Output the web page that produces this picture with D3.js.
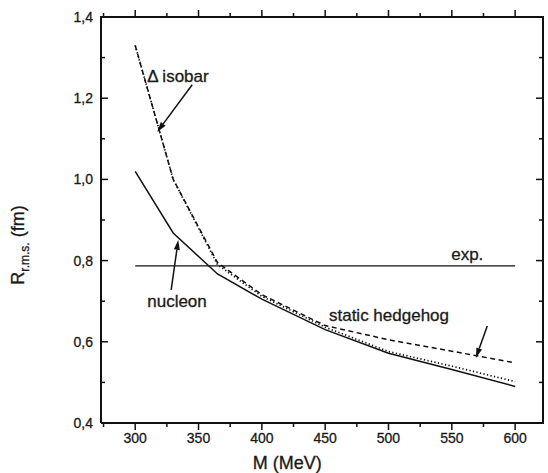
<!DOCTYPE html>
<html>
<head>
<meta charset="utf-8">
<script src="https://cdn.jsdelivr.net/npm/d3@7"></script>
<style>
  body { margin: 0; background: #fff; }
  svg text { font-family: "Liberation Sans", Arial, sans-serif; fill: #1a1a1a; }
</style>
</head>
<body>
<svg id="chart" width="548" height="473"></svg>
<script>
// Pion mass M (MeV) and r.m.s. radii (fm)
var masses   = [300, 330, 365, 400, 450, 500, 550, 600];
var nucleon  = [1.02, 0.868, 0.767, 0.705, 0.630, 0.572, 0.532, 0.490];
var isobar   = [1.33, 1.00, 0.790, 0.712, 0.636, 0.576, 0.540, 0.502];
var hedgehog = [1.33, 1.00, 0.795, 0.716, 0.640, 0.605, 0.577, 0.548];
var expRadius = 0.787;
var expRange = [300, 600];

var xTicks = [300, 350, 400, 450, 500, 550, 600];
var yTicks = [0.4, 0.6, 0.8, 1.0, 1.2, 1.4];
var xMinor = [275, 325, 375, 425, 475, 525, 575];
var yMinor = [0.5, 0.7, 0.9, 1.1, 1.3];

var svg = d3.select("#chart");
var x = d3.scaleLinear().domain([273, 622]).range([101, 543]);
var y = d3.scaleLinear().domain([0.4, 1.4]).range([423, 17]);

var fmt = function (d) { return d3.format(".1f")(d).replace(".", ","); };

var line = d3.line()
    .x(function (d) { return x(d[0]); })
    .y(function (d) { return y(d[1]); });

var mLo = x.domain()[0], mHi = x.domain()[1];
var rLo = y.domain()[0], rHi = y.domain()[1];

// frame, drawn in data units like the curves
svg.append("path")
    .datum([[mLo, rLo], [mLo, rHi], [mHi, rHi], [mHi, rLo], [mLo, rLo]])
    .attr("d", line)
    .attr("fill", "none").attr("stroke", "#111").attr("stroke-width", 2);

// inward tick marks on all four sides; lengths in data units
var dM = x.invert(x.range()[0] + 1) - mLo;   // MeV per pixel
var dR = rLo - y.invert(y.range()[0] + 1);   // fm per pixel (negative)
function tickSegs(vals, len) {
    var segs = [];
    vals.forEach(function (v) {
        segs.push([[v, rLo], [v, rLo - len * dR]]);
        segs.push([[v, rHi], [v, rHi + len * dR]]);
    });
    return segs;
}
function yTickSegs(vals, len) {
    var segs = [];
    vals.forEach(function (v) {
        segs.push([[mLo, v], [mLo + len * dM, v]]);
        segs.push([[mHi, v], [mHi - len * dM, v]]);
    });
    return segs;
}
var tickData = tickSegs(xTicks, 7).concat(tickSegs(xMinor, 4), yTickSegs(yTicks, 7), yTickSegs(yMinor, 4));

svg.selectAll(".tk").data(tickData).enter().append("path")
    .attr("class", "tk")
    .attr("d", line)
    .attr("fill", "none").attr("stroke", "#111").attr("stroke-width", 1.5);

// tick labels
svg.selectAll(".xl").data(xTicks).enter().append("text")
    .attr("class", "xl")
    .attr("x", function (d) { return x(d); })
    .attr("y", y.range()[0] + 20)
    .attr("text-anchor", "middle")
    .style("font-size", "14px")
    .style("stroke", "#1a1a1a").style("stroke-width", 0.3)
    .text(function (d) { return d; });

svg.selectAll(".yl").data(yTicks).enter().append("text")
    .attr("class", "yl")
    .attr("x", x.range()[0] - 8)
    .attr("y", function (d) { return y(d) + 5; })
    .attr("text-anchor", "end")
    .style("font-size", "14px")
    .style("stroke", "#1a1a1a").style("stroke-width", 0.3)
    .text(fmt);

// curves
function series(vals, dash, width) {
    svg.append("path")
        .datum(d3.zip(masses, vals))
        .attr("d", line)
        .attr("fill", "none")
        .attr("stroke", "#111")
        .attr("stroke-width", width)
        .attr("stroke-dasharray", dash);
}
series(hedgehog, "5,3.5", 1.5);
series(isobar, "1.3,2.3", 1.7);
series(nucleon, null, 1.5);

// experimental value
svg.append("path")
    .attr("d", line([[expRange[0], expRadius], [expRange[1], expRadius]]))
    .attr("fill", "none").attr("stroke", "#111").attr("stroke-width", 1.4);

// labels and arrows
var labels = [
    { text: "\u0394 isobar", m: 309.5, r: 1.240 },
    { text: "nucleon", m: 309.5, r: 0.686 },
    { text: "exp.", m: 549.5, r: 0.801 },
    { text: "static hedgehog", m: 453, r: 0.651 }
];
var arrows = [
    { m1: 345, r1: 1.233, m2: 317.4, r2: 1.117 },
    { m1: 328.4, r1: 0.728, m2: 334, r2: 0.851 },
    { m1: 578, r1: 0.639, m2: 569, r2: 0.560 }
];

svg.selectAll(".lbl").data(labels).enter().append("text")
    .attr("class", "lbl")
    .attr("x", function (d) { return x(d.m); })
    .attr("y", function (d) { return y(d.r); })
    .style("font-size", "17px")
    .style("stroke", "#1a1a1a").style("stroke-width", 0.3)
    .text(function (d) { return d.text; });

// arrow shaft plus a narrow filled head at the tip
arrows.forEach(function (a) {
    var ax = x(a.m1), ay = y(a.r1), bx = x(a.m2), by = y(a.r2);
    var ang = Math.atan2(by - ay, bx - ax);
    var hl = 10, hw = 3;
    var cx = bx - hl * Math.cos(ang), cy = by - hl * Math.sin(ang);
    svg.append("path")
        .attr("d", "M" + ax + "," + ay + "L" + cx + "," + cy)
        .attr("stroke", "#111").attr("stroke-width", 1.5).attr("fill", "none");
    svg.append("path")
        .attr("d", "M" + bx + "," + by +
            "L" + (cx + hw * Math.sin(ang)) + "," + (cy - hw * Math.cos(ang)) +
            "L" + (cx - hw * Math.sin(ang)) + "," + (cy + hw * Math.cos(ang)) + "Z")
        .attr("fill", "#111");
});

// axis titles
svg.append("text")
    .attr("x", x(420)).attr("y", 469)
    .attr("text-anchor", "middle")
    .style("font-size", "18px")
    .style("stroke", "#1a1a1a").style("stroke-width", 0.3)
    .text("M (MeV)");

var yt = svg.append("text")
    .attr("transform", "translate(24,245) rotate(-90)")
    .attr("text-anchor", "middle")
    .style("font-size", "18px")
    .style("stroke", "#1a1a1a").style("stroke-width", 0.3);
yt.append("tspan").text("R");
yt.append("tspan").attr("dy", 5).style("font-size", "12px").text("r.m.s.");
yt.append("tspan").attr("dy", -5).text(" (fm)");
</script>
</body>
</html>
